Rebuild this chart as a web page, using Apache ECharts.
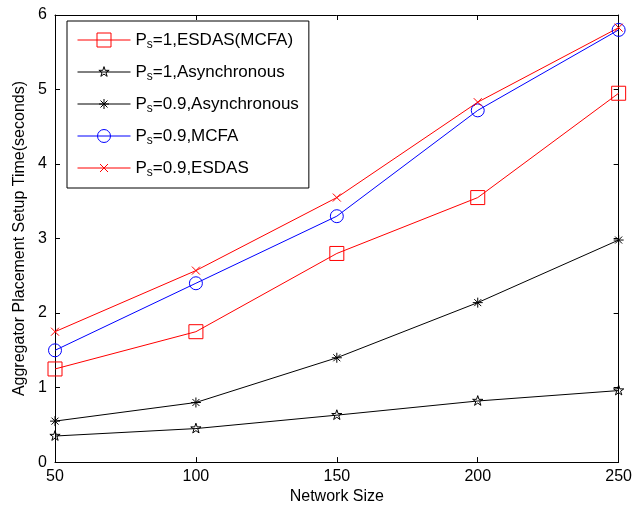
<!DOCTYPE html>
<html><head><meta charset="utf-8">
<script src="https://cdn.jsdelivr.net/npm/echarts@6/dist/echarts.min.js"></script>
<style>html,body{margin:0;padding:0;background:#fff}#c{width:635px;height:510px}</style>
</head><body><div id="c"></div>
<script>
var networkSize = [50, 100, 150, 200, 250];
var ps1Esdas = [1.25, 1.75, 2.80, 3.55, 4.95];
var ps1Async = [0.35, 0.45, 0.63, 0.82, 0.96];
var ps09Async = [0.55, 0.80, 1.40, 2.14, 2.98];
var ps09Mcfa = [1.50, 2.40, 3.30, 4.72, 5.80];
var ps09Esdas = [1.75, 2.57, 3.55, 4.83, 5.83];
var seriesNames = ['=1,ESDAS(MCFA)', '=1,Asynchronous', '=0.9,Asynchronous', '=0.9,MCFA', '=0.9,ESDAS'];
var xTicks = [50, 100, 150, 200, 250];
var yTicks = [0, 1, 2, 3, 4, 5, 6];

var FONT = 'Liberation Sans, Arial, sans-serif';
// symbol shapes; invisible zero-length segments pad the bounding box so the glyph is smaller than its box
function pad(p){ return ' M-' + p + ',-' + p + 'L-' + p + ',-' + p + ' M' + p + ',' + p + 'L' + p + ',' + p; }
var rectPath = 'path://M-1,-1L1,-1L1,1L-1,1Z';
var starPath = 'path://M0,-1L0.2245,-0.309L0.951,-0.309L0.363,0.118L0.588,0.809L0,0.382L-0.588,0.809L-0.363,0.118L-0.951,-0.309L-0.2245,-0.309Z' + pad(1.3);
var asterPath = 'path://M-1,0L1,0M0,-1L0,1M-0.7,-0.7L0.7,0.7M-0.7,0.7L0.7,-0.7' + pad(1.4);
var circlePath = 'path://M1,0A1,1,0,1,1,-1,0A1,1,0,1,1,1,0Z' + pad(1.08);
var xPath = 'path://M-1,-1L1,1M-1,1L1,-1' + pad(1.75);

function pairs(arr){ return arr.map(function(v,i){ return [networkSize[i], v]; }); }

function mk(name, data, color, symbol){
  return {
    name: name, type: 'line', data: pairs(data),
    symbol: symbol, symbolSize: 14, showAllSymbol: true,
    lineStyle: {color: color, width: 1},
    itemStyle: {color: 'transparent', borderColor: color, borderWidth: 1},
    emphasis: {disabled: true}, animation: false
  };
}

var chart = echarts.init(document.getElementById('c'));
var axisCommon = {
  axisLine: {show: true, onZero: false, lineStyle: {color: '#000', width: 1}},
  axisTick: {show: true, inside: true, length: 5, lineStyle: {color: '#000'}},
  splitLine: {show: false}
};
chart.setOption({
  animation: false,
  backgroundColor: '#fff',
  grid: {left: 55, right: 11, top: 15, bottom: 47, containLabel: false},
  xAxis: [
    Object.assign({type: 'value', min: 50, max: 250, interval: 50, name: 'Network Size',
      nameLocation: 'middle', nameGap: 26,
      nameTextStyle: {fontFamily: FONT, fontSize: 16, color: '#000'},
      axisLabel: {fontFamily: FONT, fontSize: 16, color: '#000', margin: 6,
        formatter: function(v){ return xTicks.indexOf(v) >= 0 ? String(v) : ''; }}}, axisCommon),
    Object.assign({type: 'value', position: 'top', min: 50, max: 250, interval: 50,
      axisLabel: {show: false}}, axisCommon)
  ],
  yAxis: [
    Object.assign({type: 'value', min: 0, max: 6, interval: 1,
      name: 'Aggregator Placement Setup Time(seconds)',
      nameLocation: 'middle', nameGap: 27,
      nameTextStyle: {fontFamily: FONT, fontSize: 16, color: '#000'},
      axisLabel: {fontFamily: FONT, fontSize: 16, color: '#000', margin: 8,
        formatter: function(v){ return yTicks.indexOf(v) >= 0 ? String(v) : ''; }}}, axisCommon),
    Object.assign({type: 'value', position: 'right', min: 0, max: 6, interval: 1,
      axisLabel: {show: false}}, axisCommon)
  ],
  legend: {
    orient: 'vertical', left: 67, top: 21,
    padding: [8, 10, 9, 10], itemGap: 10, itemWidth: 53, itemHeight: 17.5,
    borderColor: '#000', borderWidth: 1, backgroundColor: '#fff',
    lineStyle: {width: 1},
    itemStyle: {color: 'transparent', borderWidth: 1},
    data: seriesNames,
    formatter: function(n){ return '{p|P}{s|s}{p|' + n + '}'; },
    textStyle: {
      fontFamily: FONT, color: '#000',
      rich: {
        p: {fontFamily: FONT, fontSize: 17, color: '#000', lineHeight: 22, verticalAlign: 'middle'},
        s: {fontFamily: FONT, fontSize: 12, color: '#000', lineHeight: 22, verticalAlign: 'bottom', padding: [10, 0, 0, 0]}
      }
    }
  },
  series: [
    mk(seriesNames[0], ps1Esdas, '#ff0000', rectPath),
    mk(seriesNames[1], ps1Async, '#000000', starPath),
    mk(seriesNames[2], ps09Async, '#000000', asterPath),
    mk(seriesNames[3], ps09Mcfa, '#0000ff', circlePath),
    mk(seriesNames[4], ps09Esdas, '#ff0000', xPath)
  ]
});
</script></body></html>
